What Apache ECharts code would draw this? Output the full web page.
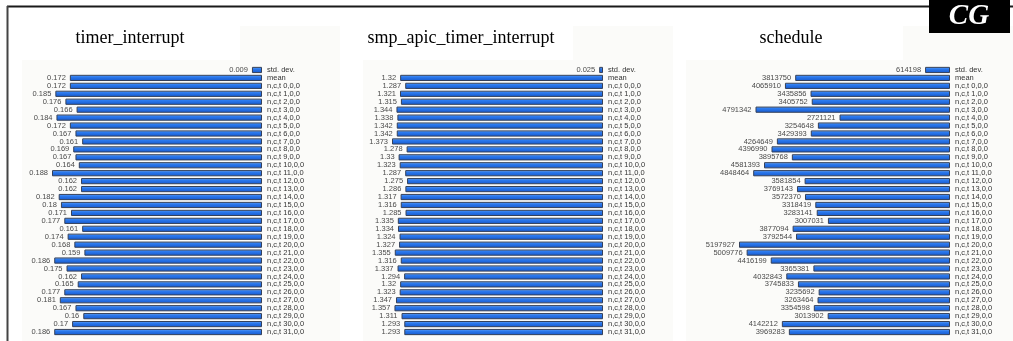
<!DOCTYPE html>
<html>
<head>
<meta charset="utf-8">
<script src="https://cdn.jsdelivr.net/npm/echarts@6/dist/echarts.min.js"></script>
<style>
  html, body { margin: 0; padding: 0; background: #ffffff; }
  #chart { width: 1013px; height: 341px; }
</style>
</head>
<body>
<div id="chart"></div>
<script>
// Row labels shared by all three panels
const categories = ['std. dev.', 'mean'];
for (let i = 0; i < 32; i++) categories.push('n,c,t ' + i + ',0,0');

// Panel titles
const titles = ['timer_interrupt', 'smp_apic_timer_interrupt', 'schedule'];

// timer_interrupt: std. dev., mean, then per-thread values
const timerInterrupt = [0.009, 0.172,
  0.172, 0.185, 0.176, 0.166, 0.184, 0.172, 0.167, 0.161,
  0.169, 0.167, 0.164, 0.188, 0.162, 0.162, 0.182, 0.18,
  0.171, 0.177, 0.161, 0.174, 0.168, 0.159, 0.186, 0.175,
  0.162, 0.165, 0.177, 0.181, 0.167, 0.16, 0.17, 0.186];

// smp_apic_timer_interrupt
const smpApicTimerInterrupt = [0.025, 1.32,
  1.287, 1.321, 1.315, 1.344, 1.338, 1.342, 1.342, 1.373,
  1.278, 1.33, 1.323, 1.287, 1.275, 1.286, 1.317, 1.316,
  1.285, 1.335, 1.334, 1.324, 1.327, 1.355, 1.316, 1.337,
  1.294, 1.32, 1.323, 1.347, 1.357, 1.311, 1.293, 1.293];

// schedule
const schedule = [614198, 3813750,
  4065910, 3435856, 3405752, 4791342, 2721121, 3254648, 3429393, 4264649,
  4396990, 3895768, 4581393, 4848464, 3581854, 3769143, 3572370, 3318419,
  3283141, 3007031, 3877094, 3792544, 5197927, 5009776, 4416199, 3365381,
  4032843, 3745833, 3235692, 3263464, 3354598, 3013902, 4142212, 3969283];

const panelData = [timerInterrupt, smpApicTimerInterrupt, schedule];

// Plot area placement for each panel (bars grow leftwards from the right edge)
const plots = [
  { left: 52, right: 262, titleX: 130 },
  { left: 392, right: 603, titleX: 461 },
  { left: 739, right: 950, titleX: 791 }
];
const plotTop = 66;
const plotHeight = 270;

const barFill = new echarts.graphic.LinearGradient(0, 0, 0, 1, [
  { offset: 0, color: '#9cc4f4' },
  { offset: 0.3, color: '#2d7cf0' },
  { offset: 1, color: '#1658cc' }
]);

const labelFont = 'Liberation Sans, Arial, sans-serif';

const grids = [], xAxes = [], yAxes = [], series = [];
plots.forEach((p, i) => {
  grids.push({ left: p.left, width: p.right - p.left, top: plotTop, height: plotHeight });
  xAxes.push({
    gridIndex: i, type: 'value', inverse: true, min: 0, max: 'dataMax', show: false
  });
  yAxes.push({
    gridIndex: i, type: 'category', data: categories, inverse: true, position: 'right',
    axisLine: { show: false }, axisTick: { show: false }, splitLine: { show: false },
    axisLabel: {
      interval: 0, margin: 5, color: '#333333', fontSize: 7.5, fontFamily: labelFont
    }
  });
  series.push({
    type: 'bar', xAxisIndex: i, yAxisIndex: i, data: panelData[i],
    barCategoryGap: '22%', animation: false,
    itemStyle: { color: barFill, borderColor: '#34405a', borderWidth: 1 },
    label: {
      show: true, position: 'left', distance: 4, color: '#4a4a4a', fontSize: 7.5,
      fontFamily: labelFont
    }
  });
});

// Background panels, titles, frame and corner mark
const graphics = [
  { type: 'rect', shape: { x: 22, y: 26, width: 318, height: 315 }, style: { fill: '#fbfbf9' }, z: -10 },
  { type: 'rect', shape: { x: 22, y: 26, width: 218, height: 34 }, style: { fill: '#ffffff' }, z: -9 },
  { type: 'rect', shape: { x: 348, y: 26, width: 325, height: 315 }, style: { fill: '#fbfbf9' }, z: -10 },
  { type: 'rect', shape: { x: 348, y: 26, width: 225, height: 34 }, style: { fill: '#ffffff' }, z: -9 },
  { type: 'rect', shape: { x: 348, y: 60, width: 15, height: 281 }, style: { fill: '#ffffff' }, z: -9 },
  { type: 'rect', shape: { x: 679, y: 26, width: 334, height: 315 }, style: { fill: '#fbfbf9' }, z: -10 },
  { type: 'rect', shape: { x: 679, y: 26, width: 224, height: 34 }, style: { fill: '#ffffff' }, z: -9 },
  { type: 'rect', shape: { x: 679, y: 60, width: 7, height: 281 }, style: { fill: '#ffffff' }, z: -9 },
  { type: 'line', shape: { x1: 7, y1: 6.5, x2: 1013, y2: 6.5 }, style: { stroke: '#1a1a1a', lineWidth: 2 } },
  { type: 'line', shape: { x1: 7.5, y1: 6, x2: 7.5, y2: 341 }, style: { stroke: '#444444', lineWidth: 2 } },
  { type: 'rect', shape: { x: 929, y: 0, width: 81, height: 33 }, style: { fill: '#000000' }, z: 10 },
  { type: 'text', x: 969, y: 17, z: 11, style: {
      text: 'CG', fill: '#ffffff', font: 'italic bold 29px "Liberation Serif", "DejaVu Serif", serif',
      textAlign: 'center', textVerticalAlign: 'middle' } }
];
plots.forEach((p, i) => {
  graphics.push({ type: 'text', x: p.titleX, y: 38, style: {
    text: titles[i], fill: '#000000', font: '18px "Liberation Serif", "DejaVu Serif", serif',
    textAlign: 'center', textVerticalAlign: 'middle' } });
});

const chart = echarts.init(document.getElementById('chart'), null, { renderer: 'canvas' });
chart.setOption({
  animation: false,
  grid: grids,
  xAxis: xAxes,
  yAxis: yAxes,
  series: series,
  graphic: graphics
});
</script>
</body>
</html>
